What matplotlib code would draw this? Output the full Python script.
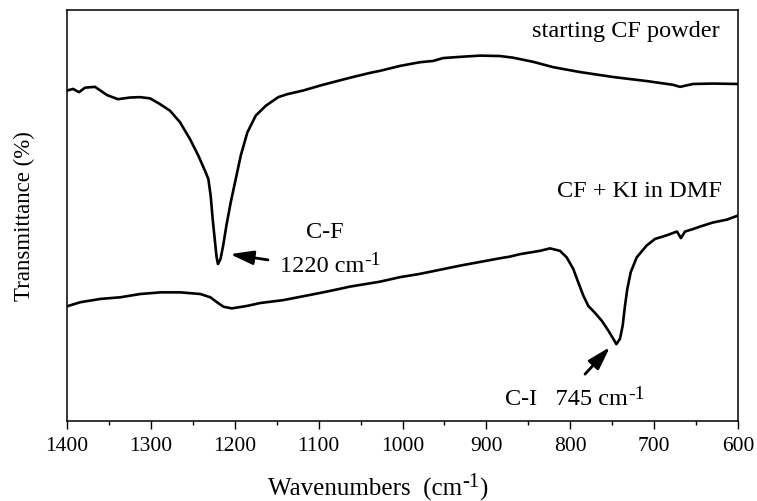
import matplotlib
matplotlib.use("Agg")
import matplotlib.pyplot as plt
from matplotlib.ticker import MultipleLocator

plt.rcParams["font.family"] = ["Liberation Serif", "DejaVu Serif"]

# FTIR spectrum of the starting CF powder (wavenumber, transmittance a.u.)
cf_wn = [1400, 1392.8, 1385.7, 1378.5, 1366.6, 1352.3, 1339.2, 1324.9, 1313.0,
         1301.0, 1289.1, 1277.2, 1265.3, 1253.4, 1243.5, 1235.5, 1231.5, 1228.7,
         1226.3, 1223.5, 1221.6, 1220.0, 1217.0, 1213.8, 1210.0, 1204.8, 1198.8,
         1192.8, 1185.0, 1175.0, 1163.0, 1148.1, 1137.7, 1118.6, 1098.4, 1078.1,
         1059.0, 1038.7, 1026.8, 1002.9, 979.1, 963.6, 951.7, 931.4, 907.6,
         883.7, 868.2, 844.4, 820.6, 788.4, 749.0, 708.5, 677.5, 669.1, 653.6,
         629.8, 600]
cf_t = [80.4, 80.8, 80.0, 81.1, 81.3, 79.3, 78.3, 78.7, 78.8,
        78.5, 77.1, 75.5, 72.7, 68.6, 64.6, 60.9, 58.9, 54.8,
        49.1, 43.5, 39.8, 38.2, 39.4, 42.7, 47.5, 53.2, 58.9,
        64.6, 70.2, 74.3, 76.7, 78.8, 79.5, 80.4, 81.6, 82.7,
        83.7, 84.7, 85.2, 86.4, 87.3, 87.6, 88.3, 88.6, 88.9,
        88.8, 88.4, 87.4, 86.1, 84.9, 83.7, 82.7, 81.8, 81.3, 82.0,
        82.1, 82.0]

# FTIR spectrum after treatment with KI in DMF
ki_wn = [1400, 1384.1, 1360.2, 1336.4, 1312.6, 1288.7, 1264.9, 1241.1, 1229.1,
         1221.2, 1213.4, 1203.4, 1185.3, 1169.9, 1142.5, 1122.2, 1102.1,
         1082.9, 1062.6, 1026.8, 1002.9, 979.1, 955.3, 931.4, 907.6, 883.7,
         871.8, 859.9, 836.1, 824.2, 812.2, 804.2, 796.4, 790.4, 784.4, 778.5,
         770.5, 762.5, 754.6, 748.7, 745.0, 740.7, 737.5, 734.7, 732.0, 727.9,
         720.8, 708.9, 698.9, 684.7, 672.8, 668.0, 663.2, 653.6, 645.3, 629.8,
         613.1, 600]
ki_t = [27.9, 28.9, 29.7, 30.1, 30.9, 31.3, 31.3, 30.9, 30.1,
        28.9, 27.8, 27.4, 28.0, 28.7, 29.4, 30.2, 31.0,
        31.8, 32.7, 33.9, 35.0, 35.8, 36.8, 37.8, 38.7, 39.6,
        40.0, 40.6, 41.4, 42.0, 41.4, 39.8, 37.0, 33.7, 30.5, 28.0,
        26.3, 24.4, 22.0, 20.0, 18.7, 20.0, 23.2, 28.1, 32.1, 36.2,
        39.8, 42.7, 44.3, 45.2, 46.1, 44.5, 46.1, 46.7, 47.3, 48.3,
        49.0, 50.0]

# band assignments
cf_band = 1220
ci_band = 745
cf_band_t = cf_t[cf_wn.index(cf_band)]
ci_band_t = ki_t[ki_wn.index(ci_band)]

fig = plt.figure(figsize=(7.57, 5.02), dpi=100)
ax = fig.add_axes([67 / 757, 80 / 502, 671 / 757, 411 / 502])

ax.plot(cf_wn, cf_t, color="black", lw=1.9, solid_joinstyle="round")
ax.plot(ki_wn, ki_t, color="black", lw=1.9, solid_joinstyle="round")

ax.set_xlim(1400, 600)
ax.set_ylim(0, 100)
ax.xaxis.set_major_locator(MultipleLocator(100))
ax.xaxis.set_minor_locator(MultipleLocator(50))
ax.set_yticks([])
ax.tick_params(axis="x", which="major", direction="out", length=5.5, width=1.0,
               labelsize=15.5, pad=5)
ax.tick_params(axis="x", which="minor", direction="out", length=3, width=1.0)
for s in ax.spines.values():
    s.set_linewidth(1.1)

FS = 17.5      # annotation text size
SUP = 14       # superscript size


def superscript(base, text="-1", size=SUP):
    """Place a raised superscript right after an existing text artist."""
    return ax.annotate(text, xy=(1, 0.36), xycoords=base, ha="left",
                       va="bottom", fontsize=size, annotation_clip=False)


# x-axis label built from pieces so that the exponent stays large
xl = ax.set_xlabel("Wavenumbers  (cm", fontsize=18, ha="left")
ax.xaxis.set_label_coords((268 - 67) / 671, -0.135)
sx = superscript(xl, size=15)
ax.annotate(")", xy=(1.0, 0), xycoords=(sx, xl), ha="left", va="bottom",
            fontsize=18, annotation_clip=False)

ax.set_ylabel("Transmittance (%)", fontsize=16.5)
ax.yaxis.set_label_coords(-0.047, 0.5)

ax.text(621.5, 94.9, "starting CF powder", fontsize=FS, ha="right", va="center")
ax.text(619, 56.2, "CF + KI in DMF", fontsize=FS, ha="right", va="center")
ax.text(1092.4, 46.2, "C-F", fontsize=FS, ha="center", va="center")
t1 = ax.text(1146.0, 36.5, "1220 cm", fontsize=FS, ha="left", va="baseline")
superscript(t1)
t2 = ax.text(877.8, 4.1, "C-I   745 cm", fontsize=FS, ha="left", va="baseline")
superscript(t2)

arrow = dict(arrowstyle="-|>,head_length=1.0,head_width=0.3",
             color="black", lw=2.0, mutation_scale=14, shrinkA=0, shrinkB=0)
ax.annotate("", xy=(cf_band - 14.3, cf_band_t + 2.4), xytext=(1160.4, 39.2),
            arrowprops=arrow)
ax.annotate("", xy=(ci_band + 7.6, ci_band_t - 0.7), xytext=(782.4, 11.4),
            arrowprops=arrow)

fig.savefig("out.png", dpi=100)
